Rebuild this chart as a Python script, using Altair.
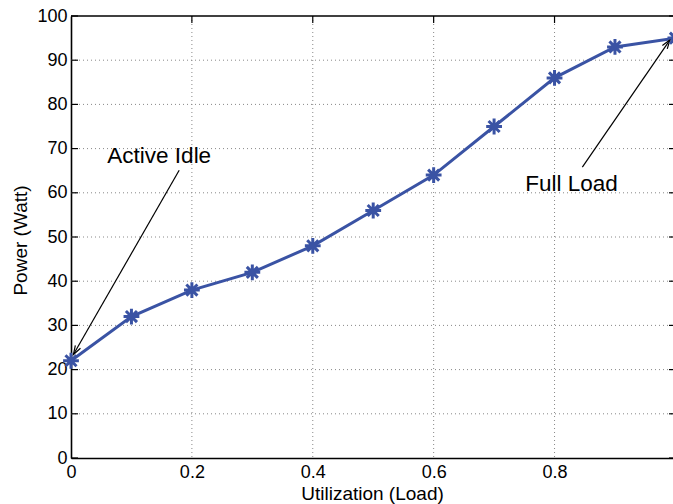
import altair as alt
import pandas as pd

utilization = [0.0, 0.1, 0.2, 0.3, 0.4, 0.5, 0.6, 0.7, 0.8, 0.9, 1.0]
power = [22, 32, 38, 42, 48, 56, 64, 75, 86, 93, 95]

x_ticks = [0.0, 0.2, 0.4, 0.6, 0.8, 1.0]
x_labels = [0.0, 0.2, 0.4, 0.6, 0.8]
y_ticks = [0, 10, 20, 30, 40, 50, 60, 70, 80, 90, 100]

ann_text = ["Active Idle", "Full Load"]
ann_tx = [0.146, 0.828]
ann_ty = [68.3, 62.0]
arrow_x0 = [0.179, 0.846]
arrow_y0 = [65.1, 65.8]
arrow_x1 = [0.004, 0.991]
arrow_y1 = [23.4, 94.6]
arrow_angle = [210, 35]

FONT = "Liberation Sans"
BLUE = "#3A53A4"

xs = alt.Scale(domain=[0, 0.996], nice=False, zero=False)
ys = alt.Scale(domain=[0, 100], nice=False, zero=False)

x_axis = alt.Axis(values=x_labels, format="~g", grid=False, labelFlush=False,
                  ticks=False, domainColor="black", domainWidth=1.6,
                  labelFontSize=18, labelFont=FONT, labelColor="black",
                  labelPadding=5, titleFontSize=19, titleFont=FONT,
                  titleFontWeight="normal", titleColor="black",
                  titleY=35, titleBaseline="middle")
y_axis = alt.Axis(values=y_ticks, grid=False, ticks=False, labelFlush=False,
                  domainColor="black", domainWidth=1.6,
                  labelFontSize=18, labelFont=FONT, labelColor="black",
                  labelPadding=4, titleFontSize=19, titleFont=FONT,
                  titleFontWeight="normal", titleColor="black",
                  titleX=-41, titleY=224, titleBaseline="bottom")
XT = "Utilization (Load)"
YT = "Power (Watt)"


def X(f):
    return alt.X(f, scale=xs, axis=x_axis, title=XT)


def Y(f):
    return alt.Y(f, scale=ys, axis=y_axis, title=YT)


df = pd.DataFrame({"u": utilization, "p": power})
ann = pd.DataFrame({"t": ann_text, "x": ann_tx, "y": ann_ty,
                    "x0": arrow_x0, "y0": arrow_y0, "x1": arrow_x1, "y1": arrow_y1,
                    "a": arrow_angle})
xt = pd.DataFrame({"v": x_ticks})
xg = pd.DataFrame({"v": x_ticks[1:]})
yt = pd.DataFrame({"v": y_ticks})
yg = pd.DataFrame({"v": y_ticks[1:-1]})

# dotted grid
xgrid = alt.Chart(xg).mark_rule(color="#888888", strokeWidth=1, strokeDash=[1, 3]).encode(
    x=X("v:Q"), y=alt.value(0), y2=alt.value(442),
)
ygrid = alt.Chart(yg).mark_rule(color="#888888", strokeWidth=1, strokeDash=[1, 3]).encode(
    y=Y("v:Q"), x=alt.value(0), x2=alt.value(602),
)

line = alt.Chart(df).mark_line(color=BLUE, strokeWidth=3).encode(
    x=X("u:Q"), y=Y("p:Q"),
)

star_path = "M-1,0L1,0M0,-1L0,1M-0.7,-0.7L0.7,0.7M-0.7,0.7L0.7,-0.7"
points = alt.Chart(df).mark_point(shape=star_path, size=250, filled=False,
                                  stroke=BLUE, strokeWidth=3, opacity=1).encode(
    x=X("u:Q"), y=Y("p:Q"),
)

top_border = alt.Chart(pd.DataFrame({"y": [100]})).mark_rule(color="black", strokeWidth=1.6).encode(
    y=Y("y:Q"),
)

# inward ticks
xb = alt.Chart(xt).mark_rule(color="black", strokeWidth=1.2, clip=True).encode(
    x=X("v:Q"), y=alt.value(458), y2=alt.value(451),
)
xtop = alt.Chart(xt).mark_rule(color="black", strokeWidth=1.2, clip=True).encode(
    x=X("v:Q"), y=alt.value(0), y2=alt.value(7),
)
yl = alt.Chart(yt).mark_rule(color="black", strokeWidth=1.2).encode(
    y=Y("v:Q"), x=alt.value(0), x2=alt.value(7),
)
yr = alt.Chart(yt).mark_rule(color="black", strokeWidth=1.2).encode(
    y=Y("v:Q"), x=alt.value(598), x2=alt.value(605),
)

arrows = alt.Chart(ann).mark_rule(color="black", strokeWidth=1.2).encode(
    x=X("x0:Q"), y=Y("y0:Q"), x2="x1:Q", y2="y1:Q",
)
heads = alt.Chart(ann).mark_point(shape="M-0.33,1L0,0L0.33,1", size=324, filled=False,
                                  stroke="black", strokeWidth=1.2, opacity=1).encode(
    x=X("x1:Q"), y=Y("y1:Q"),
    angle=alt.Angle("a:Q", scale=None),
)
labels = alt.Chart(ann).mark_text(font=FONT, fontSize=22.5, color="black",
                                  align="center", baseline="middle").encode(
    x=X("x:Q"), y=Y("y:Q"), text="t:N",
)

chart = alt.layer(xgrid, ygrid, line, top_border, xb, xtop, yl, yr, arrows, heads,
                  points, labels).properties(
    width=602, height=442,
    autosize=alt.AutoSizeParams(type="none"),
    padding={"left": 71, "top": 16, "right": 0, "bottom": 46},
    background="white",
).configure_view(strokeWidth=0)

chart.save("out.html", embed_options={"renderer": "svg", "actions": False})
